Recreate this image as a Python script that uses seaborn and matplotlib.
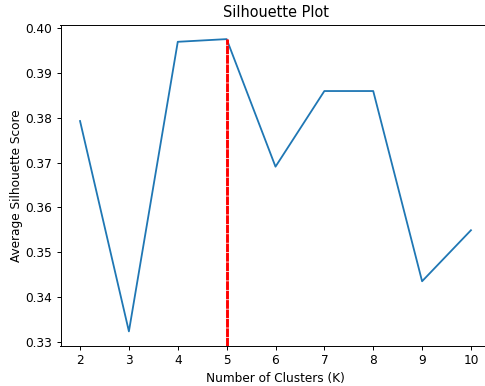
import matplotlib
matplotlib.use("Agg")
import matplotlib.pyplot as plt
import seaborn as sns
import pandas as pd

# Average silhouette score for each number of clusters
k_values = [2, 3, 4, 5, 6, 7, 8, 9, 10]
silhouette_scores = [0.3793, 0.3323, 0.3970, 0.3976, 0.3691, 0.3860, 0.3860, 0.3435, 0.3549]

df = pd.DataFrame({"k": k_values, "score": silhouette_scores})

dpi = 87
fig = plt.figure(figsize=(485 / dpi, 386 / dpi), dpi=dpi)
ax = fig.add_axes([60.5 / 485, 1 - 346 / 386, 430 / 485, 321.5 / 386])

sns.lineplot(data=df, x="k", y="score", ax=ax, color="C0", linewidth=1.5)

# Mark the best K with a vertical line up to its score
best_idx = max(range(len(silhouette_scores)), key=lambda i: silhouette_scores[i])
best_k = k_values[best_idx]
best_score = silhouette_scores[best_idx]
ax.margins(x=0.05, y=0.05)
ax.autoscale_view()
y0, y1 = ax.get_ylim()
ax.vlines(best_k, y0, best_score, colors="red", linestyles=(0, (3, 0.25)), linewidth=2.4)
ax.set_ylim(y0, y1)

ax.set_title("Silhouette Plot")
ax.set_xlabel("Number of Clusters (K)")
ax.set_ylabel("Average Silhouette Score", labelpad=1.5)

fig.savefig("out.png", dpi=dpi)
